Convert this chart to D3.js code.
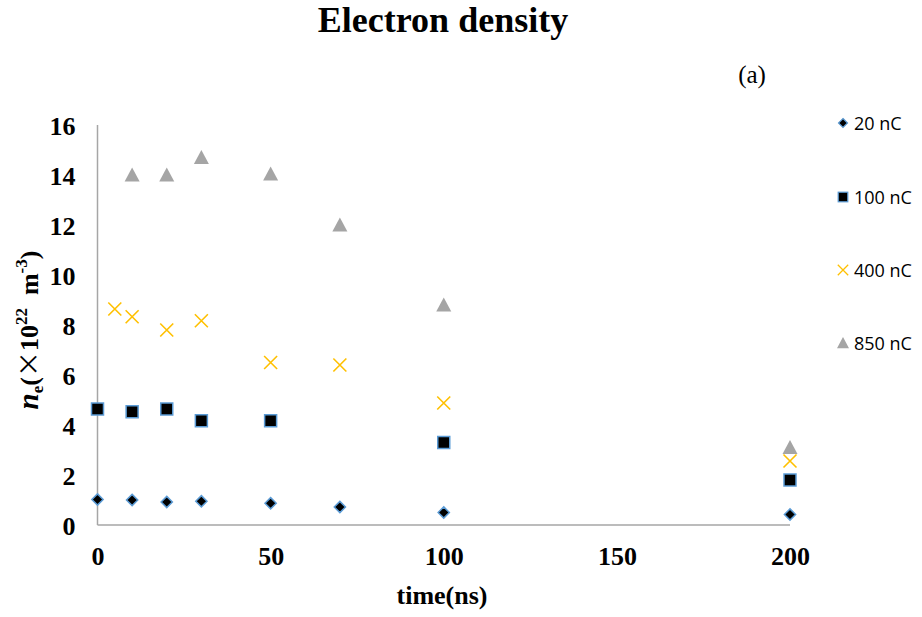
<!DOCTYPE html>
<html>
<head>
<meta charset="utf-8">
<script src="https://cdn.jsdelivr.net/npm/d3@7"></script>
<style>
  body { margin: 0; background: #fff; }
</style>
</head>
<body>
<script>
// data (time in ns, density in 1e22 m^-3)
var t20  = [0, 10, 20, 30, 50, 70, 100, 200];
var n20  = [1.02, 1.0, 0.92, 0.95, 0.87, 0.72, 0.5, 0.42];
var t100 = [0, 10, 20, 30, 50, 100, 200];
var n100 = [4.64, 4.53, 4.64, 4.17, 4.17, 3.3, 1.8];
var t400 = [5, 10, 20, 30, 50, 70, 100, 200];
var n400 = [8.64, 8.33, 7.8, 8.17, 6.5, 6.4, 4.88, 2.56];
var t850 = [10, 20, 30, 50, 70, 100, 200];
var n850 = [14.0, 14.0, 14.7, 14.04, 12.0, 8.8, 3.1];
var seriesNames = ["20 nC", "100 nC", "400 nC", "850 nC"];
var xTicks = [0, 50, 100, 150, 200];
var yTicks = [0, 2, 4, 6, 8, 10, 12, 14, 16];

var serif = "'Liberation Serif', 'Times New Roman', serif";
var sans = "'Open Sans', 'Liberation Sans', sans-serif";

var W = 922, H = 617;
var svg = d3.select("body").append("svg").attr("width", W).attr("height", H);

var x = d3.scaleLinear().domain([0, 200]).range([97.5, 790]);
var y = d3.scaleLinear().domain([0, 16]).range([525, 125]);

// axes lines (no tick marks)
var xAxis = d3.axisBottom(x).tickValues(xTicks).tickSize(0).tickPadding(22);
var yAxis = d3.axisLeft(y).tickValues(yTicks).tickSize(0).tickPadding(22);

var gx = svg.append("g").attr("transform", "translate(0," + 525 + ")").call(xAxis);
gx.select(".domain").attr("stroke", "#a6a6a6").attr("stroke-width", 1.5)
  .attr("d", "M" + x(0) + ",0H" + x(200));
gx.selectAll("text").style("font-family", serif).style("font-weight", "bold")
  .style("font-size", "26px").attr("fill", "#000");

var gy = svg.append("g").attr("transform", "translate(" + 97.5 + ",0)").call(yAxis);
gy.select(".domain").attr("stroke", "#a6a6a6").attr("stroke-width", 1.5)
  .attr("d", "M0," + y(16) + "V" + y(0));
gy.selectAll("text").style("font-family", serif).style("font-weight", "bold")
  .style("font-size", "26px").attr("fill", "#000").attr("dy", "0.35em");

// titles
function txt(xp, yp, s, size, bold) {
  return svg.append("text").attr("x", xp).attr("y", yp).attr("text-anchor", "middle")
    .style("font-family", serif).style("font-weight", bold ? "bold" : "normal")
    .style("font-size", size + "px").text(s);
}
txt(443, 32, "Electron density", 36, true);
txt(752, 83, "(a)", 25, false);
txt(442, 604, "time(ns)", 26, true);

var yl = svg.append("text").attr("transform", "translate(38,330) rotate(-90)")
  .attr("text-anchor", "middle").style("font-family", serif)
  .style("font-weight", "bold").style("font-size", "26px");
yl.append("tspan").style("font-style", "italic").style("font-size", "29px").text("n");
yl.append("tspan").style("font-size", "17px").attr("dy", 5).text("e");
yl.append("tspan").attr("dy", -5).text("(");
yl.append("tspan").style("font-family", "'Noto Sans CJK SC'").style("font-weight", "normal").text("\u00D7");
yl.append("tspan").text("10");
yl.append("tspan").style("font-size", "17px").attr("dy", -11).text("22");
yl.append("tspan").attr("dy", 11).text("\u00A0 m");
yl.append("tspan").style("font-size", "17px").attr("dy", -11).text("-3");
yl.append("tspan").attr("dy", 11).text(")");

// marker drawers
function diamond(g) {
  g.append("path").attr("d", d3.symbol(d3.symbolDiamond2, 80)())
    .attr("fill", "#000").attr("stroke", "#5b9bd5").attr("stroke-width", 1.5);
}
function square(g) {
  g.append("rect").attr("x", -6).attr("y", -6).attr("width", 12).attr("height", 12)
    .attr("fill", "#000").attr("stroke", "#5b9bd5").attr("stroke-width", 1.5);
}
function cross(g) {
  g.append("path").attr("d", "M-6.5,-6.5L6.5,6.5M-6.5,6.5L6.5,-6.5")
    .attr("stroke", "#ffc000").attr("stroke-width", 1.6).attr("fill", "none");
}
function tri(g) {
  g.append("path").attr("d", "M0,-7.5L7.5,6.5L-7.5,6.5Z").attr("fill", "#a5a5a5");
}

var series = [
  {t: t20, n: n20, draw: diamond},
  {t: t100, n: n100, draw: square},
  {t: t400, n: n400, draw: cross},
  {t: t850, n: n850, draw: tri}
];

series.forEach(function(s) {
  s.t.forEach(function(tv, i) {
    var g = svg.append("g").attr("transform", "translate(" + x(tv) + "," + y(s.n[i]) + ")");
    s.draw(g);
  });
});

// legend
var legY = [123, 197, 270, 343];
series.forEach(function(s, i) {
  var g = svg.append("g").attr("transform", "translate(843," + legY[i] + ")");
  var m = g.append("g").attr("transform", "scale(0.8)");
  s.draw(m);
  g.append("text").attr("x", 11).attr("y", 6.5).style("font-family", sans)
    .style("font-size", "18px").attr("fill", "#000").text(seriesNames[i]);
});
</script>
</body>
</html>
